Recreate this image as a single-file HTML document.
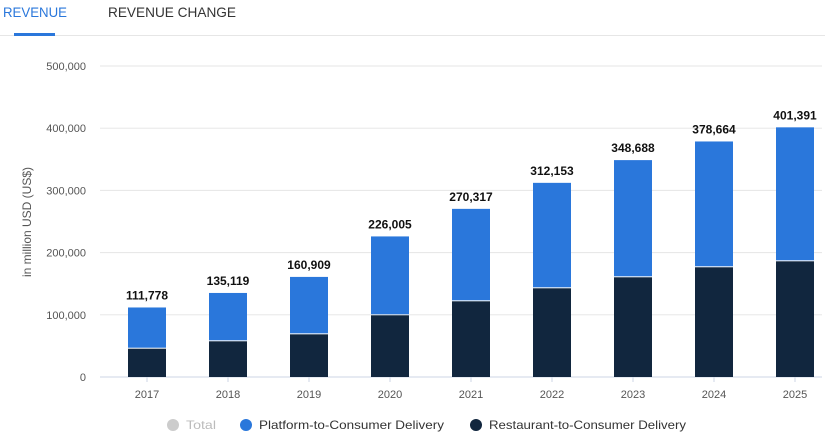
<!DOCTYPE html>
<html><head><meta charset="utf-8"><style>
body{margin:0;background:#fff;font-family:"Liberation Sans",sans-serif;}
svg{display:block}
</style></head><body>
<svg width="825" height="438" viewBox="0 0 825 438">
<text x="3" y="17" font-size="14" fill="#2a77db" textLength="64" lengthAdjust="spacingAndGlyphs">REVENUE</text>
<text x="108" y="17" font-size="14" fill="#333" textLength="128" lengthAdjust="spacingAndGlyphs">REVENUE CHANGE</text>
<rect x="0" y="35" width="825" height="1" fill="#e6e6e6"/>
<rect x="14" y="33" width="41" height="3" fill="#2a77db"/>
<g id="grid"></g><g id="bars"></g><g id="labels"></g>
<text transform="translate(31,222) rotate(-90)" text-anchor="middle" font-size="12" fill="#555">in million USD (US$)</text>
<g font-size="12" fill="#333">
<circle cx="173" cy="425" r="6" fill="#ccc"/>
<text x="186" y="429" fill="#bbb" textLength="30" lengthAdjust="spacingAndGlyphs">Total</text>
<circle cx="246" cy="425" r="6" fill="#2a77db"/>
<text x="259" y="429" textLength="185" lengthAdjust="spacingAndGlyphs">Platform-to-Consumer Delivery</text>
<circle cx="476" cy="425" r="6" fill="#11263e"/>
<text x="489" y="429" textLength="197" lengthAdjust="spacingAndGlyphs">Restaurant-to-Consumer Delivery</text>
</g>
</svg>
<script>
const categories=["2017","2018","2019","2020","2021","2022","2023","2024","2025"];
const totals=[111778,135119,160909,226005,270317,312153,348688,378664,401391];
const restaurant=[45500,57400,68600,99200,121700,142600,160300,176400,186000];
const yTicks=[0,100000,200000,300000,400000,500000];
const NS="http://www.w3.org/2000/svg";
const y=v=>377-v*(311/500000);
const x=i=>147+i*81;
function el(t,a,p){const e=document.createElementNS(NS,t);for(const k in a)e.setAttribute(k,a[k]);document.getElementById(p).appendChild(e);return e;}
yTicks.forEach(v=>{
 const l=el('rect',{x:100,y:y(v)-0.5,width:722,height:1,fill:v===0?'#ccd6e6':'#e6e6e6'},'grid');
 
 
 const t=el('text',{x:86,y:y(v)+4,'text-anchor':'end','font-size':11,fill:'#555'},'grid');
 t.textContent=v.toLocaleString('en-US');
 
 
});
categories.forEach((c,i)=>{
 const r=restaurant[i];
 const b1=el('rect',{x:x(i)-19,y:y(totals[i]),width:38,height:y(r)-y(totals[i])-1,fill:'#2a77db'},'bars');
 
 
 const b2=el('rect',{x:x(i)-19,y:y(r),width:38,height:377-y(r),fill:'#11263e'},'bars');
 
 
 const t=el('text',{x:x(i),y:y(totals[i])-8,'text-anchor':'middle','font-size':12,fill:'#111','font-weight':'bold'},'labels');
 t.textContent=totals[i].toLocaleString('en-US');
 
 
 const tk=el('rect',{x:x(i)-0.5,y:377,width:1,height:5,fill:'#ccd6e6'},'grid');
 
 
 const xl=el('text',{x:x(i),y:398,'text-anchor':'middle','font-size':11,fill:'#555'},'labels');
 xl.textContent=c;
 
 
});
</script>
</body></html>
